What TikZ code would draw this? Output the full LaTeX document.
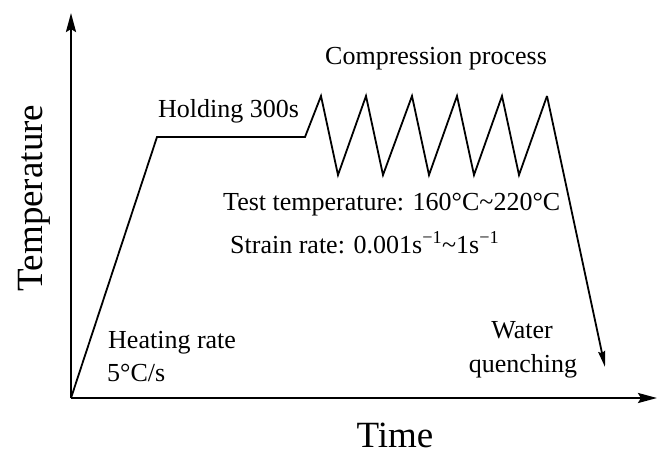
\documentclass[tikz,border=0pt]{standalone}
\usepackage{fontspec}
\setmainfont{Liberation Serif}
\usetikzlibrary{arrows.meta}
\begin{document}
\begin{tikzpicture}[x=1pt,y=-1pt,
  lbl/.style={inner sep=0pt,anchor=base west,font=\fontsize{26}{30}\selectfont},
  axlbl/.style={inner sep=0pt,font=\fontsize{37}{42}\selectfont},
  axis/.style={line width=2.4pt,-{Stealth[length=19pt,width=10pt,inset=3pt]}},
  prof/.style={line width=1.8pt,line join=miter}]
\useasboundingbox (0,0) rectangle (665,459);
% key points
\coordinate (O) at (71,398);
\coordinate (ytip) at (71,13);
\coordinate (xtip) at (657,398);
\coordinate (h1) at (157,137);
\coordinate (h2) at (305,137);
\coordinate (p1) at (321,96);
\coordinate (v1) at (338,175);
\coordinate (p2) at (366,96);
\coordinate (v2) at (383,175);
\coordinate (p3) at (412,96);
\coordinate (v3) at (429,175);
\coordinate (p4) at (457,96);
\coordinate (v4) at (474,175);
\coordinate (p5) at (502,96);
\coordinate (v5) at (519,175);
\coordinate (p6) at (547,96);
\coordinate (qtip) at (605,367);
% axes
\draw[axis] (O) -- (ytip);
\draw[axis] (O) -- (xtip);
% profile
\draw[prof] (O) -- (h1) -- (h2) -- (p1) -- (v1) -- (p2) -- (v2) -- (p3) -- (v3) -- (p4) -- (v4) -- (p5) -- (v5) -- (p6);
\draw[prof,-{Stealth[length=16pt,width=7pt,inset=2pt]}] (p6) -- (qtip);
% labels
\node[lbl] (comp) at (325,64) {Compression process};
\node[lbl] (hold) at (158,117) {Holding 300s};
\node[lbl] (test) at (223,210) {Test temperature: 160°C\textasciitilde220°C};
\node[lbl] (strain) at (230,253) {Strain rate: 0.001s\textsuperscript{−1}\textasciitilde1s\textsuperscript{−1}};
\node[lbl] (heat1) at (108,348) {Heating rate};
\node[lbl] (heat2) at (107,381) {5°C/s};
\node[lbl,anchor=base] (water) at (522,338) {Water};
\node[lbl,anchor=base] (quench) at (523,372) {quenching};
\node[axlbl,anchor=base] (time) at (395,447) {Time};
\node[axlbl,anchor=base,rotate=90] (temp) at (42,198) {Temperature};
\end{tikzpicture}
\end{document}
